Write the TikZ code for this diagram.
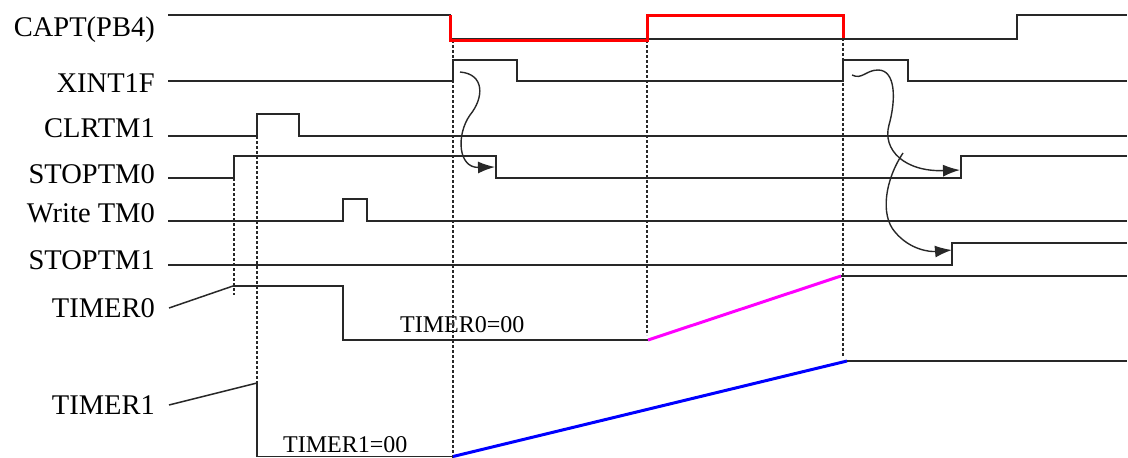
\documentclass[tikz,border=0pt]{standalone}
\usepackage{fontspec}
\setmainfont{Liberation Serif}
\usetikzlibrary{arrows.meta}
\definecolor{cred}{RGB}{255,0,0}
\definecolor{cmag}{RGB}{255,0,255}
\definecolor{cblue}{RGB}{0,0,255}
\definecolor{cline}{RGB}{40,40,40}
\begin{document}
\begin{tikzpicture}[x=1pt,y=-1pt,
  sig/.style={line width=1.8pt,draw=cline,line join=miter},
  guide/.style={line width=1.5pt,draw=cline,dash pattern=on 3pt off 2pt},
  cause/.style={line width=1.4pt,draw=cline,-{Latex[length=17pt,width=12pt]}},
  lbl/.style={inner sep=0pt,anchor=base east,font=\fontsize{28.5}{30}\selectfont},
  val/.style={inner sep=0pt,anchor=base west,font=\fontsize{24}{26}\selectfont},
  ramp/.style={line width=3pt}]
\useasboundingbox (0,0) rectangle (1128,458);
% labels
\node[lbl] (lcapt) at (155,36) {CAPT(PB4)};
\node[lbl] (lxint) at (155,92) {XINT1F};
\node[lbl] (lclr) at (155,137) {CLRTM1};
\node[lbl] (lstop0) at (155,183) {STOPTM0};
\node[lbl] (lwr) at (155,222) {Write TM0};
\node[lbl] (lstop1) at (155,269) {STOPTM1};
\node[lbl] (lt0) at (155,317) {TIMER0};
\node[lbl] (lt1) at (155,414) {TIMER1};
\node[val] (v0) at (400,332) {TIMER0=00};
\node[val] (v1) at (283,452) {TIMER1=00};
% guide lines
\draw[guide] (234,178) -- (234,295);
\draw[guide] (257,136) -- (257,383);
\draw[guide] (453,40) -- (453,458);
\draw[guide] (647,40) -- (647,335);
\draw[guide] (843,38) -- (843,357);
% CAPT
\draw[sig] (168,15) -- (450,15) -- (450,39) -- (1017,39) -- (1017,15) -- (1127,15);
\draw[cred,line width=3pt,line join=miter] (450,15) -- (450,40) -- (647,40) -- (647,15) -- (843,15) -- (843,38);
% XINT1F
\draw[sig] (168,81) -- (453,81) -- (453,60) -- (517,60) -- (517,81) -- (843,81) -- (843,60) -- (908,60) -- (908,81) -- (1127,81);
% CLRTM1
\draw[sig] (168,136) -- (257,136) -- (257,114) -- (299,114) -- (299,136) -- (1127,136);
% STOPTM0
\draw[sig] (168,178) -- (234,178) -- (234,156) -- (496,156) -- (496,178) -- (961,178) -- (961,156) -- (1127,156);
% Write TM0
\draw[sig] (168,221) -- (343,221) -- (343,199) -- (367,199) -- (367,221) -- (1127,221);
% STOPTM1
\draw[sig] (168,265) -- (952,265) -- (952,243) -- (1127,243);
% TIMER0
\draw[line width=1.5pt,draw=cline] (169,308) -- (233,286);
\draw[sig] (233,286) -- (343,286) -- (343,340) -- (648,340);
\draw[ramp,cmag] (648,340) -- (841,276);
\draw[sig] (841,276) -- (1127,276);
% TIMER1
\draw[line width=1.5pt,draw=cline] (169,405) -- (257,383);
\draw[sig] (257,383) -- (257,456.5) -- (453,456.5);
\draw[ramp,cblue] (453,456.5) -- (847,361);
\draw[sig] (847,361) -- (1127,361);
% cause arrows
\draw[cause] (460,72) .. controls (485,74) and (484,98) .. (470,115)
  .. controls (456,135) and (458,168) .. (495,167);
\draw[cause] (852,75) .. controls (862,80) and (866,70) .. (878,70)
  .. controls (896,70) and (896,100) .. (889,125)
  .. controls (882,150) and (905,172) .. (960,170);
\draw[cause] (903,153) .. controls (885,180) and (880,215) .. (895,232)
  .. controls (910,250) and (930,252) .. (952,250);
\end{tikzpicture}
\end{document}
